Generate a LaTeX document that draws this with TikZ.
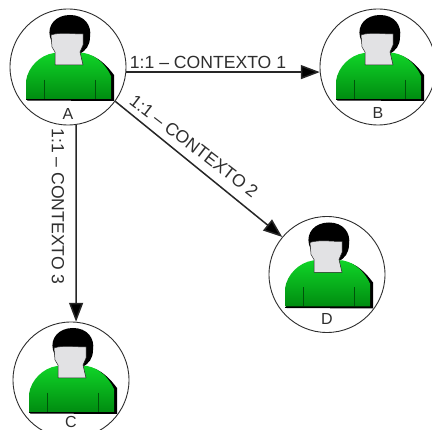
\documentclass[tikz,border=0pt]{standalone}
\usepackage{fontspec}
\setmainfont{Liberation Sans}
\usetikzlibrary{arrows.meta}
\definecolor{ink}{HTML}{2E2E2E}
\definecolor{bodytop}{HTML}{10D428}
\definecolor{bodybot}{HTML}{008C10}
\definecolor{facegrey}{HTML}{E2E2E4}
\tikzset{
  x=1pt,y=-1pt,
  usercircle/.style={circle,draw=ink,line width=0.9pt,minimum size=116pt,inner sep=0pt,fill=none},
  linktext/.style={font=\fontsize{17.6}{18}\selectfont,text=ink,inner sep=0pt,anchor=center},
  lettertext/.style={font=\fontsize{16}{17}\selectfont,text=ink,inner sep=0pt,anchor=center},
  linkarrow/.style={line width=1.5pt,draw=black!85,-{Triangle[length=19pt,width=14pt,fill=black]}},
  person/.pic={
    % hair
    \fill[black] (-18,-30) .. controls (-21,-42) and (-12,-52) .. (2,-52)
      .. controls (16,-52) and (24,-42) .. (22,-30)
      .. controls (22,-22) and (18,-16) .. (11,-13) -- (-12,-13) -- cycle;
    % body shadow
    \fill[black] (-41,33.5) -- (-41,10) -- (-14,-13) -- (16,-13)
      .. controls (30,-12) and (40,0) .. (46,8) -- (46,34) -- cycle;
    % body
    \shade[top color=bodytop,bottom color=bodybot]
      (-42,32) -- (-42,14)
      .. controls (-40,0) and (-28,-12) .. (-14,-14)
      -- (16,-14)
      .. controls (28,-12) and (38,-2) .. (43,9)
      -- (43,32) -- cycle;
    \draw[bodybot!60!black,line width=0.8pt] (-24,13) -- (-24,32) (27,13) -- (27,32);
    \draw[black,line width=0.5pt] (-42,32.5) -- (44,32.5);
    % face and neck
    \fill[facegrey,draw=ink!80!black,line width=0.5pt]
      (-13,-2) -- (-13,-15) -- (-16,-20) -- (-17,-32)
      .. controls (-8,-35) and (4,-33) .. (15,-33)
      -- (15,-22) -- (12,-15) -- (15,-2) -- cycle;
  }
}
\begin{document}
\begin{tikzpicture}
\clip (0,0) rectangle (432,430);
\fill[white] (0,0) rectangle (432,430);
\pic at (68,67) {person};
\pic at (378,67) {person};
\pic at (327,274.5) {person};
\pic at (71,380) {person};
\node[usercircle] (A) at (68,67) {};
\node[usercircle] (B) at (378,67) {};
\node[usercircle] (D) at (327,274.5) {};
\node[usercircle] (C) at (71,380) {};
\node[lettertext] (la) at (68,113.5) {A};
\node[lettertext] (lb) at (378,113) {B};
\node[lettertext] (ld) at (327,319) {D};
\node[lettertext] (lc) at (71,422) {C};
\draw[linkarrow] (A.-5.6) -- (B.185.6);
\draw[linkarrow] (A.-36) -- (D.140.2);
\draw[linkarrow] (A.-82.6) -- (C.85.6);
\node[linktext] (t1) at (208,62.5) {1:1 – CONTEXTO 1};
\node[linktext,rotate=-37.5] (t2) at (194,146) {1:1 – CONTEXTO 2};
\node[linktext,rotate=-90] (t3) at (58,206.5) {1:1 – CONTEXTO 3};
\end{tikzpicture}
\end{document}
